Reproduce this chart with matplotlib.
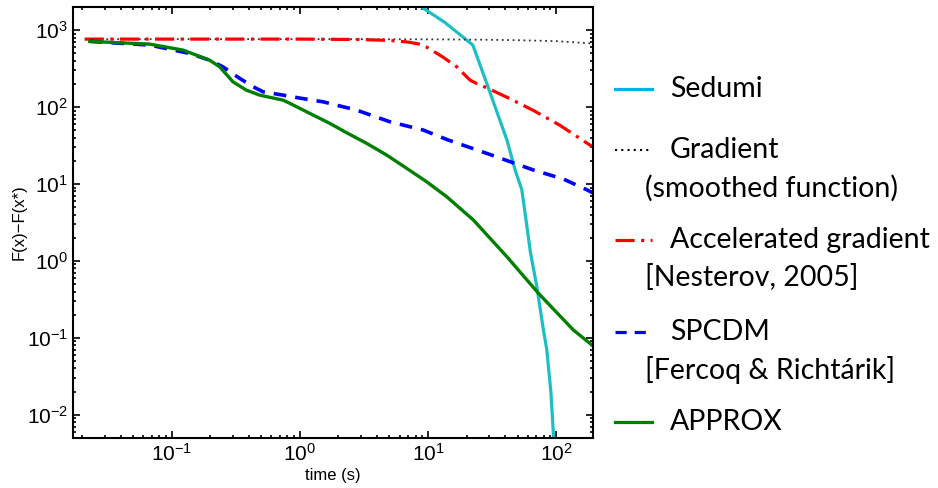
import numpy as np
import matplotlib
matplotlib.use('Agg')
import matplotlib.pyplot as plt
from matplotlib.lines import Line2D

# Sedumi
t_sedumi = [7.0, 8.9, 13.5, 22.4, 29.5, 41.4, 47.9, 54, 58, 63, 70.7, 79.6, 84.6, 91, 95, 98]
f_sedumi = [4000, 2000, 1265, 640, 181, 37, 15.2, 8.4, 3.6, 1.3, 0.464, 0.127, 0.07, 0.02, 0.006, 0.003]

# Gradient (smoothed function)
t_grad = [0.021, 0.1, 1, 10, 30, 50, 100, 195]
f_grad = [760, 765, 765, 760, 750, 740, 720, 670]

# Accelerated gradient
t_acc = [0.021, 0.1, 1, 3, 5, 7, 8.5, 9.8, 13, 16.9, 21.3, 25, 28.8, 41.4, 66, 107, 195]
f_acc = [765, 765, 765, 755, 735, 700, 660, 600, 450, 330, 224, 195, 178, 134, 91, 58, 30]

# SPCDM
t_spcdm = [0.023, 0.0274, 0.0673, 0.138, 0.198, 0.251, 0.34, 0.432, 0.517, 0.741, 0.97,
           1.52, 2.77, 5.05, 9.19, 14.4, 28.8, 66.5, 114, 174, 195]
f_spcdm = [720, 700, 640, 498, 407, 334, 236, 184, 158, 143, 132,
           117, 91.4, 64.4, 50.3, 37.3, 25, 15.2, 11.6, 8.4, 7.6]

# APPROX
t_approx = [0.023, 0.03, 0.0673, 0.123, 0.198, 0.237, 0.301, 0.383, 0.487, 0.741, 0.835,
            1.197, 1.716, 2.32, 3.32, 4.76, 6.82, 9.77, 14.0, 22.6, 41.2, 72.8, 136, 190]
f_approx = [710, 700, 658, 550, 407, 334, 213, 166, 143, 123, 112,
            82.8, 61.4, 46.4, 33.8, 23.8, 16.0, 10.7, 6.84, 3.41, 1.14, 0.38, 0.127, 0.081]

plt.rcParams['font.family'] = ['Liberation Sans', 'DejaVu Sans']

fig = plt.figure(figsize=(9.38, 4.88), dpi=100)
ax = fig.add_axes([0.0778, 0.1025, 0.5544, 0.8832])

ax.loglog(t_sedumi, f_sedumi, color='#1cbfc4', lw=2.3)
ax.loglog(t_grad, f_grad, color='#333333', lw=1.3, ls=(0, (1, 2)))
ax.loglog(t_acc, f_acc, color='red', lw=2.3, ls=(0, (6, 2, 1, 2)))
ax.loglog(t_spcdm, f_spcdm, color='blue', lw=2.6, ls=(0, (3.5, 2.5)))
ax.loglog(t_approx, f_approx, color='#007f00', lw=2.4)

ax.set_xlim(0.017, 194)
ax.set_ylim(0.005, 2000)
ax.tick_params(which='both', direction='in', top=True, right=True, labelsize=15, width=1.2)
ax.tick_params(which='major', length=5)
ax.tick_params(which='minor', length=2.5)
for s in ax.spines.values():
    s.set_linewidth(1.5)
ax.set_xlabel('time (s)', fontsize=12, labelpad=2)
ax.set_ylabel('F(x)\u2212F(x*)', fontsize=12, labelpad=0)

# legend drawn by hand
lx0, lx1, tx, tx2 = 615 / 938, 652 / 938, 670 / 938, 645 / 938
entries = [
    ('Sedumi', None, 89, '#00b0f0', '-'),
    ('Gradient', '(smoothed function)', 150, 'black', (0, (1, 2))),
    ('Accelerated gradient', '[Nesterov, 2005]', 240, 'red', (0, (6, 2, 1, 2))),
    ('SPCDM', '[Fercoq & Richt\u00e1rik]', 332, 'blue', (0, (3.5, 2.5))),
    ('APPROX', None, 422, '#008000', '-'),
]
for name, sub, py, col, ls in entries:
    y = 1 - py / 488
    fig.add_artist(Line2D([lx0, lx1], [y, y], transform=fig.transFigure,
                          color=col, lw=2.3 if ls != (0, (1, 2)) else 1.5, ls=ls))
    fig.text(tx, y, name, fontsize=20.5, va='center', ha='left', family='Lato')
    if sub:
        fig.text(tx2, y - 38 / 488, sub, fontsize=20.5, va='center', ha='left',
                 family='Lato')

fig.savefig('out.png', dpi=100)
